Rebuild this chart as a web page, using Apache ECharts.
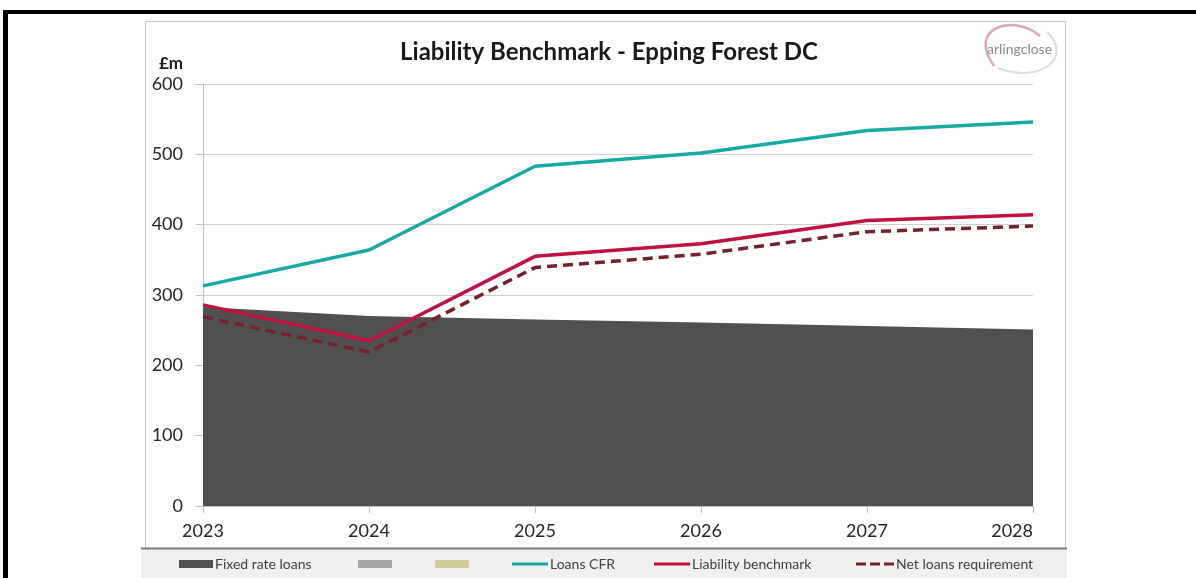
<!DOCTYPE html>
<html>
<head>
<meta charset="utf-8">
<script src="https://cdn.jsdelivr.net/npm/echarts@6/dist/echarts.min.js"></script>
<style>
html,body{margin:0;padding:0;background:#fff;}
#chart{width:1196px;height:578px;}
</style>
</head>
<body>
<div id="chart"></div>
<script>
const years = ['2023', '2024', '2025', '2026', '2027', '2028'];
const fixedRateLoans = [283, 270, 265, 261, 256, 251];
const loansCFR = [313, 364, 483, 502, 534, 546];
const liabilityBenchmark = [286, 235, 355, 373, 406, 414];
const netLoansRequirement = [269, 219, 339, 358, 390, 398];
const yTicks = [0, 100, 200, 300, 400, 500, 600];

const FONT = 'Lato, "Open Sans", sans-serif';
const chart = echarts.init(document.getElementById('chart'));

const LINE_ICON = 'path://M0,0H36V3H0Z';
const DASH_ICON = 'path://M0,0H10V3H0Z M14,0H24V3H14Z M28,0H38V3H28Z';

function leg(name, left, w, h, icon) {
  return {
    data: [{ name: name, icon: icon }], left: left, top: 557, padding: 0,
    itemWidth: w, itemHeight: h, itemGap: 0, selectedMode: false,
    textStyle: { fontFamily: FONT, fontSize: 14, color: '#404040', padding: [0, 0, 0, -3] }
  };
}

chart.setOption({
  animation: false,
  backgroundColor: '#ffffff',
  title: {
    text: 'Liability Benchmark - Epping Forest DC',
    left: 604, textAlign: 'center', top: 35,
    textStyle: { fontFamily: FONT, fontSize: 24, fontWeight: 'bold', color: '#1a1a1a' }
  },
  grid: { left: 203, right: 163, top: 84, bottom: 72, containLabel: false },
  xAxis: {
    type: 'category', data: years, boundaryGap: false,
    axisLine: { show: true, lineStyle: { color: '#bfbfbf', width: 1 } },
    axisTick: { show: true, alignWithLabel: true, length: 7, lineStyle: { color: '#bfbfbf' } },
    axisLabel: { fontFamily: FONT, fontSize: 18, color: '#262626', margin: 16, alignMaxLabel: 'right', alignMinLabel: 'center' },
    splitLine: { show: false }
  },
  yAxis: {
    type: 'value', min: 0, max: 600, interval: 100,
    name: '£m', nameLocation: 'end', nameGap: 12,
    nameTextStyle: { fontFamily: FONT, fontSize: 17, fontWeight: 'bold', color: '#1a1a1a', align: 'left', padding: [0, 0, 0, -44] },
    axisLine: { show: true, lineStyle: { color: '#bfbfbf', width: 1 } },
    axisTick: { show: true, length: 7, lineStyle: { color: '#bfbfbf' } },
    axisLabel: { fontFamily: FONT, fontSize: 18, color: '#262626', margin: 20,
      formatter: function (v) { return yTicks.indexOf(v) >= 0 ? String(v) : ''; } },
    splitLine: { show: true, lineStyle: { color: '#cfcfcf', width: 1 } }
  },
  legend: [
    leg('Fixed rate loans', 179, 34, 8, 'rect'),
    leg(' ', 358, 34, 8, 'rect'),
    leg('  ', 435, 34, 8, 'rect'),
    leg('Loans CFR', 512, 36, 3, LINE_ICON),
    leg('Liability benchmark', 654, 36, 3, LINE_ICON),
    leg('Net loans requirement', 856, 38, 3, DASH_ICON)
  ],
  graphic: [
    { type: 'rect', z: -10, shape: { x: 3, y: 10, width: 1193, height: 4 }, style: { fill: '#000' } },
    { type: 'rect', z: -10, shape: { x: 3, y: 10, width: 5, height: 568 }, style: { fill: '#000' } },
    { type: 'rect', z: -10, shape: { x: 145.5, y: 21.5, width: 920, height: 527 }, style: { fill: 'none', stroke: '#c4c4c4', lineWidth: 1 } },
    { type: 'rect', z: -9, shape: { x: 141, y: 548, width: 926, height: 30 }, style: { fill: '#f0f0f0' } },
    { type: 'line', z: -8, shape: { x1: 141, y1: 548.5, x2: 1067, y2: 548.5 }, style: { stroke: '#7a7a7a', lineWidth: 2 } },
    { type: 'bezierCurve', z: -5, shape: { x1: 1040, y1: 36, cpx1: 1015, cpy1: 14, cpx2: 966, cpy2: 26, x2: 994, y2: 66 },
      style: { fill: 'none', stroke: '#cf8aa0', lineWidth: 2.5, opacity: 0.75 } },
    { type: 'bezierCurve', z: -5, shape: { x1: 998, y1: 68, cpx1: 1040, cpy1: 84, cpx2: 1074, cpy2: 58, x2: 1047, y2: 32 },
      style: { fill: 'none', stroke: '#dcdcdc', lineWidth: 2 } },
    { type: 'text', z: -4, x: 987, y: 42, style: { text: 'arlingclose', font: '14px ' + FONT, fill: '#8a8a8a' } }
  ],
  series: [
    {
      name: 'Fixed rate loans', type: 'line', data: fixedRateLoans, symbol: 'none',
      lineStyle: { width: 0, color: '#505050' }, itemStyle: { color: '#505050' },
      areaStyle: { color: '#505050', opacity: 1 }, z: 1
    },
    { name: ' ', type: 'bar', data: [], itemStyle: { color: '#a6a6a6' } },
    { name: '  ', type: 'bar', data: [], itemStyle: { color: '#cfcd98' } },
    {
      name: 'Loans CFR', type: 'line', data: loansCFR, symbol: 'none',
      lineStyle: { width: 3.5, color: '#17aaa5' }, itemStyle: { color: '#17aaa5' }, z: 3
    },
    {
      name: 'Liability benchmark', type: 'line', data: liabilityBenchmark, symbol: 'none',
      lineStyle: { width: 3.5, color: '#c01140' }, itemStyle: { color: '#c01140' }, z: 4
    },
    {
      name: 'Net loans requirement', type: 'line', data: netLoansRequirement, symbol: 'none',
      lineStyle: { width: 3.5, color: '#74202f', type: [10, 6] }, itemStyle: { color: '#74202f' }, z: 3
    }
  ]
});
</script>
</body>
</html>
